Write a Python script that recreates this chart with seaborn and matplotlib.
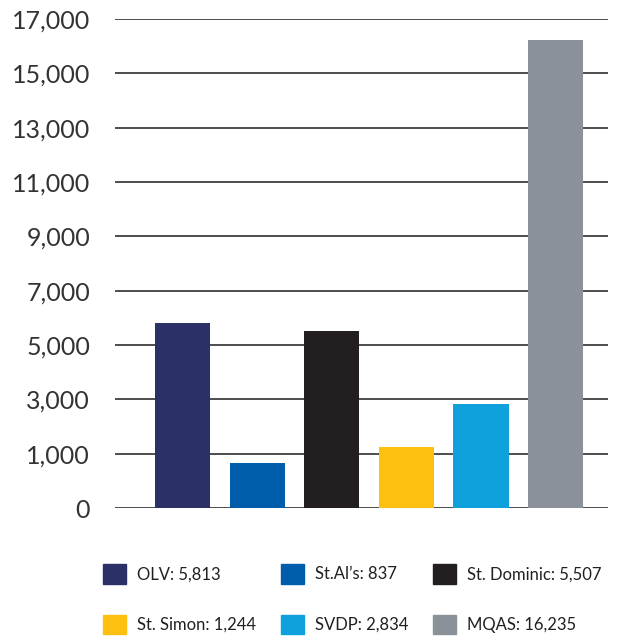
import numpy as np
import pandas as pd
import matplotlib
matplotlib.use("Agg")
import matplotlib.pyplot as plt
import matplotlib.patches as mpatches
from matplotlib.ticker import FuncFormatter
import seaborn as sns

parishes = ["OLV", "St. Al's", "St. Dominic", "St. Simon", "SVDP", "MQAS"]
legend_names = ["OLV", "St.Al\u2019s", "St. Dominic", "St. Simon", "SVDP", "MQAS"]
counts = [5813, 837, 5507, 1244, 2834, 16235]
colors = ["#2b3167", "#005dab", "#231f20", "#fdc010", "#0ea1dc", "#8a9199"]
yticks = [0, 1000, 3000, 5000, 7000, 9000, 11000, 13000, 15000, 17000]

df = pd.DataFrame({"parish": parishes, "count": counts})


# the axis of the original puts 0-1000 on one step, then 2000 per step
def fwd(v):
    v = np.asarray(v, dtype=float)
    return np.where(v < 1000, v / 1000, 1 + (v - 1000) / 2000)


def inv(y):
    y = np.asarray(y, dtype=float)
    return np.where(y < 1, y * 1000, 1000 + (y - 1) * 2000)


sns.set_style("white")
plt.rcParams["font.family"] = ["Lato", "DejaVu Sans"]

fig = plt.figure(figsize=(6.33, 6.43), dpi=100)
ax = fig.add_axes([115 / 633, 1 - 508 / 643, (608 - 115) / 633, (508 - 19) / 643])

sns.barplot(data=df, x="parish", y="count", hue="parish", palette=colors,
            width=0.74, legend=False, ax=ax, zorder=3, saturation=1,
            linewidth=0)

ax.set_yscale("function", functions=(fwd, inv))
ax.set_ylim(0, 17000)
ax.set_xlim(-0.905, 5.70)
ax.set_yticks(yticks)
ax.yaxis.set_major_formatter(FuncFormatter(lambda v, p: f"{int(v):,}"))
ax.yaxis.grid(True, color="#4d4d4d", linewidth=1.4, zorder=0)
ax.set_axisbelow(True)
for s in ax.spines.values():
    s.set_visible(False)
ax.tick_params(axis="y", length=0, pad=18, labelsize=18, labelcolor="#333333")
ax.set_xticks([])
ax.set_xlabel(None)
ax.set_ylabel(None)

# legend is filled by column, so order the handles to read row by row
handles = [mpatches.Patch(color=c, label=f"{n}: {v:,}")
           for n, v, c in zip(legend_names, counts, colors)]
order = [0, 3, 1, 4, 2, 5]
fig.legend([handles[i] for i in order], [handles[i].get_label() for i in order],
           loc="upper left", bbox_to_anchor=(103 / 633, 1 - 564 / 643),
           ncol=3, frameon=False, fontsize=12, borderpad=0, borderaxespad=0,
           handlelength=1.38, handleheight=1.44, handletextpad=0.66,
           labelspacing=1.85, columnspacing=1.5, labelcolor="#231f20")

plt.savefig("out.png", dpi=100)
